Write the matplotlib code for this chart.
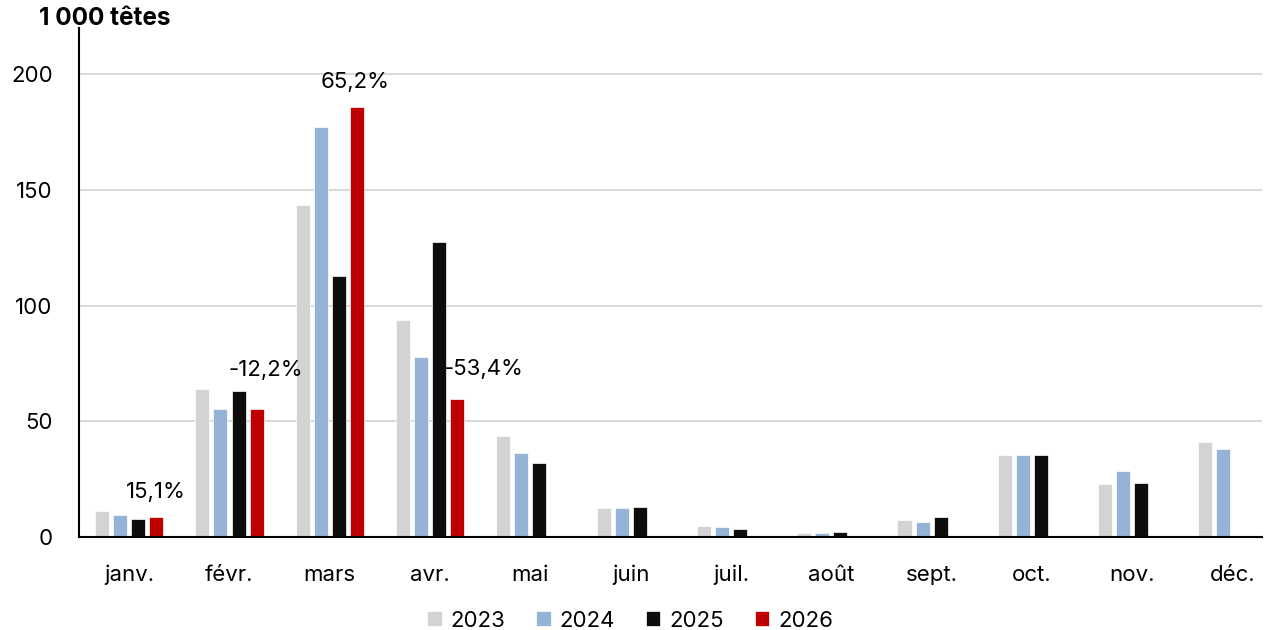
import numpy as np
import matplotlib
matplotlib.use("Agg")
import matplotlib.pyplot as plt

plt.rcParams['font.family'] = ['Inter', 'DejaVu Sans']

mois = ["janv.", "févr.", "mars", "avr.", "mai", "juin", "juil.", "août",
        "sept.", "oct.", "nov.", "déc."]
v2023 = [11.3, 64, 143.3, 94, 43.7, 12.6, 4.8, 1.7, 7.4, 35.5, 23, 41]
v2024 = [9.5, 55.4, 177, 78, 36.4, 12.6, 4.3, 1.7, 6.5, 35.5, 28.6, 38]
v2025 = [7.8, 63.2, 113, 127.3, 32, 13, 3.5, 2, 8.7, 35.5, 23.4, np.nan]
v2026 = [8.7, 55.4, 186, 59.5]
annees = ["2023", "2024", "2025", "2026"]
couleurs = ["#d3d3d3", "#95b3d7", "#0d0d0d", "#c00000"]
variations = ["15,1%", "-12,2%", "65,2%", "-53,4%"]
var_x = [0.27, 1.36, 2.25, 3.53]
var_y = [19.5, 72, 196.7, 72.5]

fig = plt.figure(figsize=(12.73, 6.3), dpi=100)
ax = fig.add_axes([0.0621, 0.1476, 0.9293, 0.808])

x = np.arange(len(mois))
step = 0.18
w = 0.14
series = [v2023, v2024, v2025, v2026]
for k, (vals, c, lab) in enumerate(zip(series, couleurs, annees)):
    xs = x[:len(vals)] + (k - 1.5) * step
    ax.bar(xs, vals, width=w, color=c, label=lab, edgecolor="white", linewidth=0.5)

for t, tx, ty in zip(variations, var_x, var_y):
    ax.text(tx, ty, t, ha="center", va="center", fontsize=16)

ax.set_xlim(-0.5, 11.295)
ax.set_ylim(0, 220)
ax.set_yticks([0, 50, 100, 150, 200])
ax.set_xticks(x)
ax.set_xticklabels(mois)
ax.tick_params(axis="both", length=0, labelsize=16)
ax.tick_params(axis="x", pad=20)
ax.tick_params(axis="y", pad=19)
ax.grid(axis="y", color="#d9d9d9", linewidth=1.5)
ax.set_axisbelow(True)
for s in ["top", "right"]:
    ax.spines[s].set_visible(False)
ax.spines["left"].set_color("black")
ax.spines["left"].set_linewidth(1.5)
ax.spines["bottom"].set_color("black")
ax.spines["bottom"].set_linewidth(1.5)

fig.text(0.031, 0.97, "1 000 têtes", fontsize=17.5, fontweight="bold", va="center", ha="left")

leg = ax.legend(loc="center", ncol=4, frameon=False, fontsize=16,
                handlelength=0.64, handleheight=0.64,
                columnspacing=1.4, handletextpad=0.4)
leg.set_bbox_to_anchor((0.495, 0.015), transform=fig.transFigure)

fig.savefig("out.png", dpi=100)
